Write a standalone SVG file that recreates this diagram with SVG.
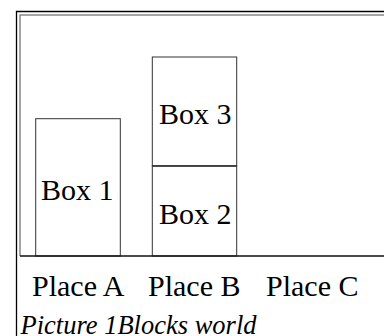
<svg xmlns="http://www.w3.org/2000/svg" width="384" height="336" viewBox="0 0 384 336">
<style>
.box{fill:#fff;stroke:#333;stroke-width:1}
.lbl{font-family:"Liberation Serif","Times New Roman",serif;font-size:30px;fill:#000}
.cap{font-family:"Liberation Serif","Times New Roman",serif;font-size:26.5px;font-style:italic;fill:#000}
</style>
<rect width="384" height="336" fill="#fff"/>
<g id="frame">
<path d="M16.5,336 V11.5 H384" fill="none" stroke="#000" stroke-width="1.3"/>
<path d="M20,256 V15 H384" fill="none" stroke="#888" stroke-width="1.5"/>
</g>
<g id="box1">
<rect class="box" x="35.7" y="118.7" width="84.6" height="137.3"/>
<text class="lbl" x="41" y="200">Box 1</text>
</g>
<g id="box3">
<rect class="box" x="152.3" y="57" width="84.4" height="109"/>
<text class="lbl" x="159" y="124">Box 3</text>
</g>
<g id="box2">
<rect class="box" x="152.3" y="166" width="84.4" height="90"/>
<text class="lbl" x="159" y="224">Box 2</text>
</g>
<g id="connectors">
<line x1="152.3" y1="166" x2="236.7" y2="166" stroke="#333" stroke-width="1.6"/>
<line x1="20" y1="256" x2="384" y2="256" stroke="#111" stroke-width="1.3"/>
</g>
<g id="places">
<text class="lbl" x="32" y="296">Place A</text>
<text class="lbl" x="148" y="296">Place B</text>
<text class="lbl" x="266" y="296">Place C</text>
</g>
<text class="cap" x="20.5" y="334">Picture 1Blocks world</text>
</svg>
